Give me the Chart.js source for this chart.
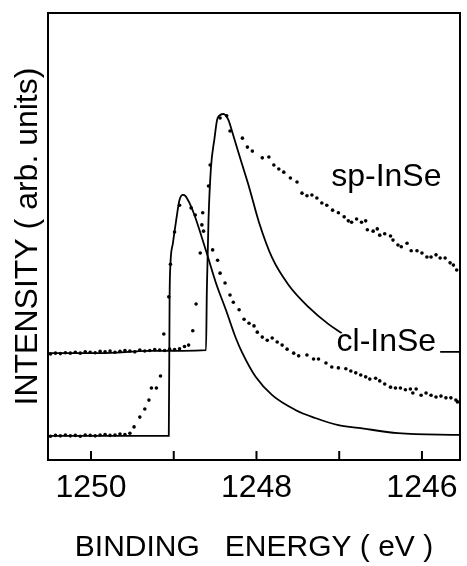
<!DOCTYPE html>
<html>
<head>
<meta charset="utf-8">
<script src="https://cdn.jsdelivr.net/npm/chart.js@4.4.1/dist/chart.umd.min.js"></script>
<style>
  html, body { margin: 0; padding: 0; background: #fff; }
</style>
</head>
<body>
<canvas id="xpsChart" width="467" height="566"></canvas>
<script>
// binding energy in eV, intensity in arb. units (0 = bottom of frame, 100 = top)

// sp-InSe fitted line (step + peak), null = hidden under the cl-InSe label
const spFitEnergy = [1250.52, 1249.89, 1249.29, 1248.61, 1248.60, 1248.58, 1248.55, 1248.51, 1248.47, 1248.40, 1248.34, 1248.29, 1248.19, 1248.09, 1247.97, 1247.81, 1247.61, 1247.37, 1247.13, 1246.97, 1246.40, 1245.78, 1245.54]
const spFitIntensity = [23.9, 23.9, 24.4, 24.6, 38.0, 53.7, 65.5, 71.6, 76.5, 77.4, 76.1, 73.2, 67.1, 61.1, 53.2, 45.2, 39.1, 34.2, 30.4, 28.4, null, 24.2, 24.2]

// cl-InSe fitted line
const clFitEnergy = [1250.52, 1249.06, 1249.05, 1249.04, 1249.01, 1248.97, 1248.93, 1248.89, 1248.86, 1248.81, 1248.75, 1248.61, 1248.49, 1248.37, 1248.25, 1248.17, 1248.01, 1247.81, 1247.53, 1247.29, 1247.01, 1246.77, 1246.29, 1245.54]
const clFitIntensity = [5.4, 5.4, 36.5, 43.8, 48.5, 53.7, 58.2, 59.3, 59.1, 57.5, 54.8, 46.8, 39.6, 33.6, 27.3, 23.9, 18.6, 14.5, 11.2, 9.4, 7.8, 7.2, 6.0, 5.6]

// sp-InSe measured points
const spDataEnergy = [
  1250.49, 1250.43, 1250.37, 1250.31, 1250.25, 1250.19, 1250.13, 1250.07, 1250.01, 1249.95,
  1249.89, 1249.83, 1249.77, 1249.71, 1249.65, 1249.59, 1249.53, 1249.47, 1249.41, 1249.35,
  1249.29, 1249.23, 1249.17, 1249.11, 1249.05, 1248.99, 1248.93, 1248.87,
  1248.82, 1248.77, 1248.73, 1248.68, 1248.58, 1248.56, 1248.44, 1248.36, 1248.32,
  1248.17, 1248.11, 1248.05, 1247.93, 1247.85, 1247.79, 1247.73, 1247.67, 1247.59, 1247.51,
  1247.45, 1247.39, 1247.33, 1247.27, 1247.21, 1247.15, 1247.08, 1247.01, 1246.94, 1246.89,
  1246.85, 1246.79, 1246.73, 1246.68, 1246.66, 1246.59, 1246.54, 1246.51, 1246.45, 1246.38,
  1246.35, 1246.29, 1246.25, 1246.18, 1246.13, 1246.06, 1246.00, 1245.94, 1245.89, 1245.83,
  1245.78, 1245.72, 1245.66, 1245.62, 1245.58
]
const spDataIntensity = [
  23.7, 23.9, 23.8, 24.0, 23.9, 24.1, 23.9, 24.2, 24.1, 24.0,
  24.3, 24.2, 24.4, 24.1, 24.3, 24.5, 24.4, 24.2, 24.6, 24.4,
  24.5, 24.7, 24.6, 24.5, 24.8, 24.7, 24.9, 25.4,
  25.7, 28.9, 34.9, 46.3, 61.3, 66.0, 76.5, 77.0, 73.6,
  72.0, 70.0, 69.1, 67.6, 67.8, 66.0, 65.1, 64.4, 63.1, 62.2,
  59.7, 59.1, 59.3, 58.6, 57.5, 57.0, 55.9, 55.3, 54.4, 53.5,
  53.2, 53.9, 53.2, 53.5, 51.5, 51.2, 51.7, 50.3, 50.6, 50.1,
  49.2, 48.1, 47.7, 48.5, 46.8, 46.8, 46.3, 45.4, 45.4, 45.9,
  45.2, 45.2, 44.1, 43.6, 42.5
]

// cl-InSe measured points
const clDataEnergy = [
  1250.49, 1250.43, 1250.37, 1250.31, 1250.25, 1250.19, 1250.13, 1250.07, 1250.01, 1249.95,
  1249.89, 1249.83, 1249.77, 1249.71, 1249.65, 1249.59, 1249.53,
  1249.48, 1249.41, 1249.35, 1249.30, 1249.27, 1249.21, 1249.16, 1249.12, 1249.06, 1249.04,
  1248.99, 1248.93, 1248.79, 1248.74, 1248.65, 1248.66, 1248.64,
  1248.53, 1248.47, 1248.44, 1248.38, 1248.32, 1248.28, 1248.21, 1248.15, 1248.09, 1248.03,
  1247.99, 1247.93, 1247.87, 1247.81, 1247.75, 1247.69, 1247.63, 1247.55, 1247.49, 1247.39,
  1247.31, 1247.25, 1247.16, 1247.09, 1247.01, 1246.92, 1246.86, 1246.80, 1246.74, 1246.68,
  1246.63, 1246.56, 1246.51, 1246.45, 1246.38, 1246.32, 1246.26, 1246.20, 1246.14, 1246.11,
  1246.07, 1246.01, 1245.95, 1245.89, 1245.83, 1245.77, 1245.71, 1245.65, 1245.59, 1245.57
]
const clDataIntensity = [
  5.3, 5.5, 5.4, 5.6, 5.4, 5.5, 5.3, 5.6, 5.5, 5.4,
  5.6, 5.7, 5.5, 5.6, 5.8, 5.7, 6.0,
  7.4, 9.6, 11.4, 13.4, 16.1, 16.1, 18.8, 28.2, 36.5, 43.8,
  51.0, 57.0, 56.4, 54.8, 55.3, 52.6, 51.2,
  47.0, 44.7, 41.8, 39.6, 36.9, 35.3, 33.6, 31.5, 30.6, 30.0,
  28.6, 27.5, 26.8, 27.3, 26.4, 25.7, 24.8, 23.9, 23.3, 23.5,
  22.6, 22.6, 21.7, 20.8, 20.6, 20.4, 19.9, 19.5, 19.0, 18.6,
  18.1, 18.3, 17.7, 17.0, 16.3, 16.1, 16.1, 15.7, 15.9, 15.0,
  15.9, 14.5, 15.0, 14.5, 14.1, 14.3, 13.9, 13.9, 13.4, 13.0
]

const energyTicks = [1246, 1247, 1248, 1249, 1250]
const curveLabels = [
  { text: 'sp-InSe', energy: 1246.43, intensity: 63.3 },
  { text: 'cl-InSe', energy: 1246.43, intensity: 26.3 }
]

function toPoints(xs, ys) {
  return xs.map((x, i) => ({ x: x, y: ys[i] }))
}

// frame, inward tick marks and the in-plot labels
const framePlugin = {
  id: 'frame',
  afterDatasetsDraw(chart) {
    const ctx = chart.ctx
    const a = chart.chartArea
    const x = chart.scales.x
    const y = chart.scales.y
    ctx.save()
    ctx.strokeStyle = '#000'
    ctx.lineWidth = 2
    ctx.strokeRect(a.left, a.top, a.right - a.left, a.bottom - a.top)
    energyTicks.forEach(v => {
      const px = x.getPixelForValue(v)
      ctx.beginPath()
      ctx.moveTo(px, a.bottom)
      ctx.lineTo(px, a.bottom - 9)
      ctx.stroke()
    })
    ctx.fillStyle = '#000'
    ctx.font = '32px "Liberation Sans", Arial, sans-serif'
    ctx.textAlign = 'center'
    ctx.textBaseline = 'middle'
    curveLabels.forEach(l => {
      ctx.fillText(l.text, x.getPixelForValue(l.energy), y.getPixelForValue(l.intensity))
    })
    ctx.restore()
  }
}

new Chart(document.getElementById('xpsChart'), {
  type: 'scatter',
  data: {
    datasets: [
      {
        label: 'sp-InSe fit',
        data: toPoints(spFitEnergy, spFitIntensity),
        showLine: true,
        borderColor: '#000',
        borderWidth: 1.8,
        pointRadius: 0,
        cubicInterpolationMode: 'monotone',
        spanGaps: false
      },
      {
        label: 'cl-InSe fit',
        data: toPoints(clFitEnergy, clFitIntensity),
        showLine: true,
        borderColor: '#000',
        borderWidth: 1.8,
        pointRadius: 0,
        cubicInterpolationMode: 'monotone'
      },
      {
        label: 'sp-InSe',
        data: toPoints(spDataEnergy, spDataIntensity),
        showLine: false,
        pointRadius: 1.8,
        pointBorderWidth: 0,
        backgroundColor: '#000'
      },
      {
        label: 'cl-InSe',
        data: toPoints(clDataEnergy, clDataIntensity),
        showLine: false,
        pointRadius: 1.8,
        pointBorderWidth: 0,
        backgroundColor: '#000'
      }
    ]
  },
  options: {
    responsive: false,
    animation: false,
    layout: { padding: { top: 13, right: 5, left: 0, bottom: 0 } },
    plugins: {
      legend: { display: false },
      tooltip: { enabled: false }
    },
    scales: {
      x: {
        type: 'linear',
        reverse: true,
        min: 1245.54,
        max: 1250.52,
        grid: { display: false, drawTicks: false },
        border: { display: false },
        ticks: {
          stepSize: 1,
          includeBounds: false,
          autoSkip: false,
          maxRotation: 0,
          padding: 9,
          color: '#000',
          font: { family: '"Liberation Sans", Arial, sans-serif', size: 32 },
          callback: v => (v % 2 === 0 ? String(v) : '')
        },
        title: {
          display: true,
          text: 'BINDING   ENERGY ( eV )',
          color: '#000',
          font: { family: '"Liberation Sans", Arial, sans-serif', size: 30 },
          padding: { top: 0, bottom: 0 }
        },
        afterFit: scale => { scale.height = 106 }
      },
      y: {
        min: 0,
        max: 100,
        grid: { display: false, drawTicks: false },
        border: { display: false },
        ticks: { display: false },
        title: {
          display: true,
          text: 'INTENSITY ( arb. units)',
          color: '#000',
          font: { family: '"Liberation Sans", Arial, sans-serif', size: 32 },
          padding: { top: 9, bottom: 0 }
        },
        afterFit: scale => { scale.width = 48 }
      }
    }
  },
  plugins: [framePlugin]
})
</script>
</body>
</html>
